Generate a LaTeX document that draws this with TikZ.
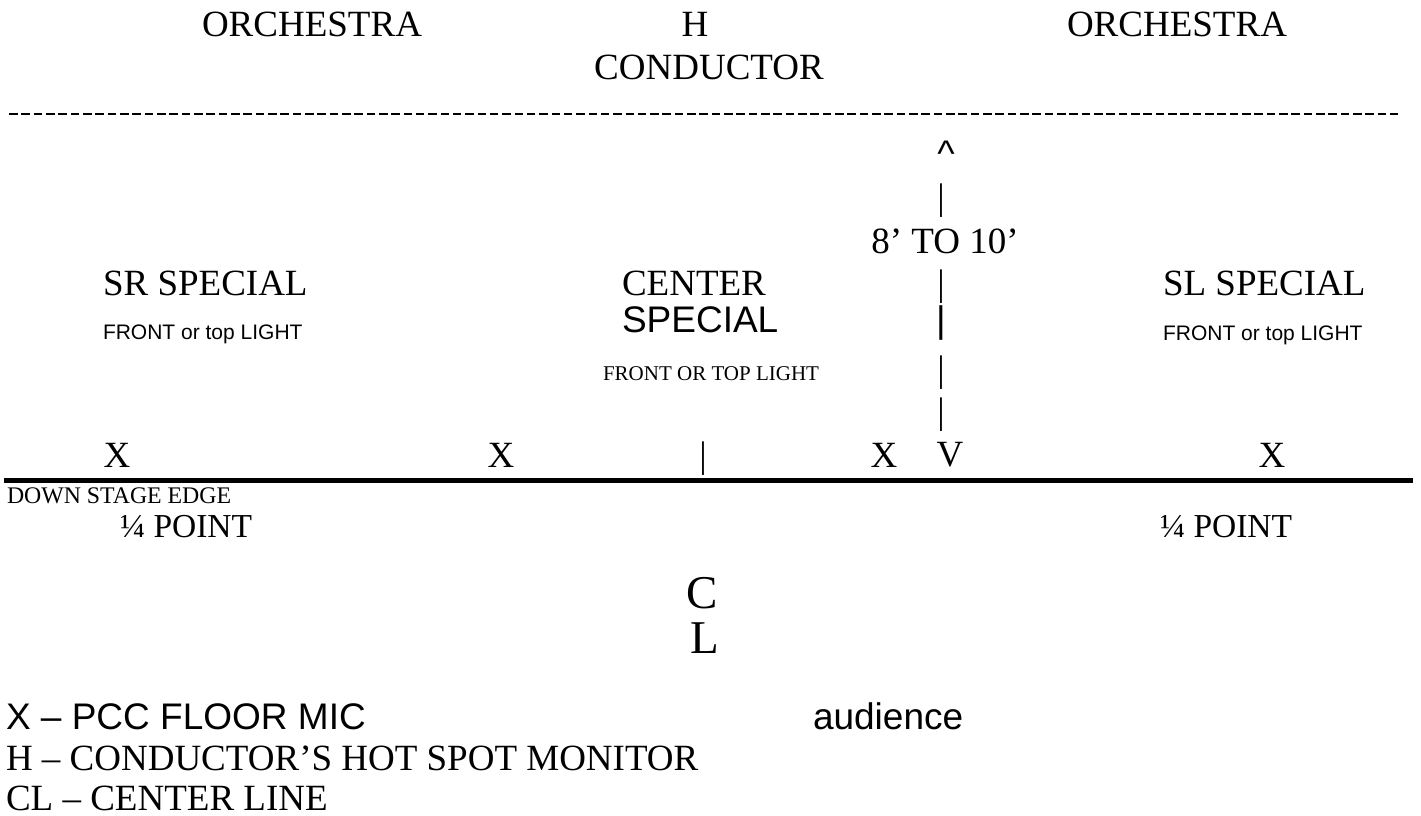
\documentclass[tikz,border=0pt]{standalone}
\usepackage{fontspec}
\setmainfont{Liberation Serif}
\newfontfamily\arialf{Liberation Sans}
\tikzset{
  txt/.style={inner sep=0pt, outer sep=0pt, anchor=base, text=black},
  serifbig/.style={txt, font=\fontsize{37}{44}\selectfont},
  sansbig/.style={txt, font=\arialf\fontsize{37}{44}\selectfont},
  sanssmall/.style={txt, font=\arialf\fontsize{21}{25}\selectfont},
  serifsmall/.style={txt, font=\fontsize{21}{25}\selectfont},
  serifedge/.style={txt, font=\fontsize{23.8}{28}\selectfont},
  serifquarter/.style={txt, font=\fontsize{33.5}{40}\selectfont},
  serifhuge/.style={txt, font=\fontsize{47}{54}\selectfont},
  leftset/.style={anchor=base west},
  dashrow/.style={line width=2.4pt, dash pattern=on 8.6pt off 3.73pt},
  stageline/.style={line width=5pt},
}
\begin{document}
\begin{tikzpicture}[x=1pt,y=-1pt]
\useasboundingbox (0,0) rectangle (1421,816);
% top row
\node[serifbig] (orchL) at (312,37) {ORCHESTRA};
\node[serifbig] (hmark) at (695,37) {H};
\node[serifbig] (orchR) at (1177,37) {ORCHESTRA};
\node[serifbig] (cond) at (709,80) {CONDUCTOR};
% dashed separator
\coordinate (dashA) at (9,114);
\coordinate (dashB) at (1398,114);
\draw[dashrow] (dashA) -- (dashB);
% distance marker
\node[sansbig] (caret) at (946,166) {\^{}};
\node[serifbig] (bar1) at (941,209) {|};
\node[serifbig] (dist) at (945,253) {8’ TO 10’};
\node[serifbig] (bar2) at (941,295) {|};
\node[sansbig] (bar3) at (941,332) {|};
\node[serifbig] (bar4) at (941,381) {|};
\node[serifbig] (bar5) at (941,423) {|};
\node[serifbig] (vee) at (950,466) {V};
% specials
\node[serifbig,leftset] (srsp) at (103,295) {SR SPECIAL};
\node[sanssmall,leftset] (srfront) at (103,339) {FRONT or top LIGHT};
\node[serifbig,leftset] (center) at (622,295) {CENTER};
\node[sansbig,leftset] (special) at (622,332) {SPECIAL};
\node[serifsmall,leftset] (cfront) at (603,380) {FRONT OR TOP LIGHT};
\node[serifbig,leftset] (slsp) at (1163,295) {SL SPECIAL};
\node[sanssmall,leftset] (slfront) at (1163,340) {FRONT or top LIGHT};
% mics
\node[serifbig] (x1) at (117,467) {X};
\node[serifbig] (x2) at (501,467) {X};
\node[serifbig] (ctick) at (703,467) {|};
\node[serifbig] (x3) at (884,467) {X};
\node[serifbig] (x4) at (1272,467) {X};
% stage edge
\coordinate (edgeA) at (4,480);
\coordinate (edgeB) at (1413,480);
\draw[stageline] (edgeA) -- (edgeB);
\node[serifedge,leftset] (dse) at (7,503) {DOWN STAGE EDGE};
\node[serifquarter,leftset] (qL) at (120,537) {¼ POINT};
\node[serifquarter,leftset] (qR) at (1160,537) {¼ POINT};
% center line
\node[serifhuge] (cC) at (702,608) {C};
\node[serifhuge] (cL) at (705,653) {L};
% legend
\node[sansbig,leftset] (legX) at (6,729) {X – PCC FLOOR MIC};
\node[sansbig,leftset] (aud) at (813,729) {audience};
\node[serifbig,leftset] (legH) at (6,770) {H – CONDUCTOR’S HOT SPOT MONITOR};
\node[serifbig,leftset] (legCL) at (6,810) {CL – CENTER LINE};
\end{tikzpicture}
\end{document}
